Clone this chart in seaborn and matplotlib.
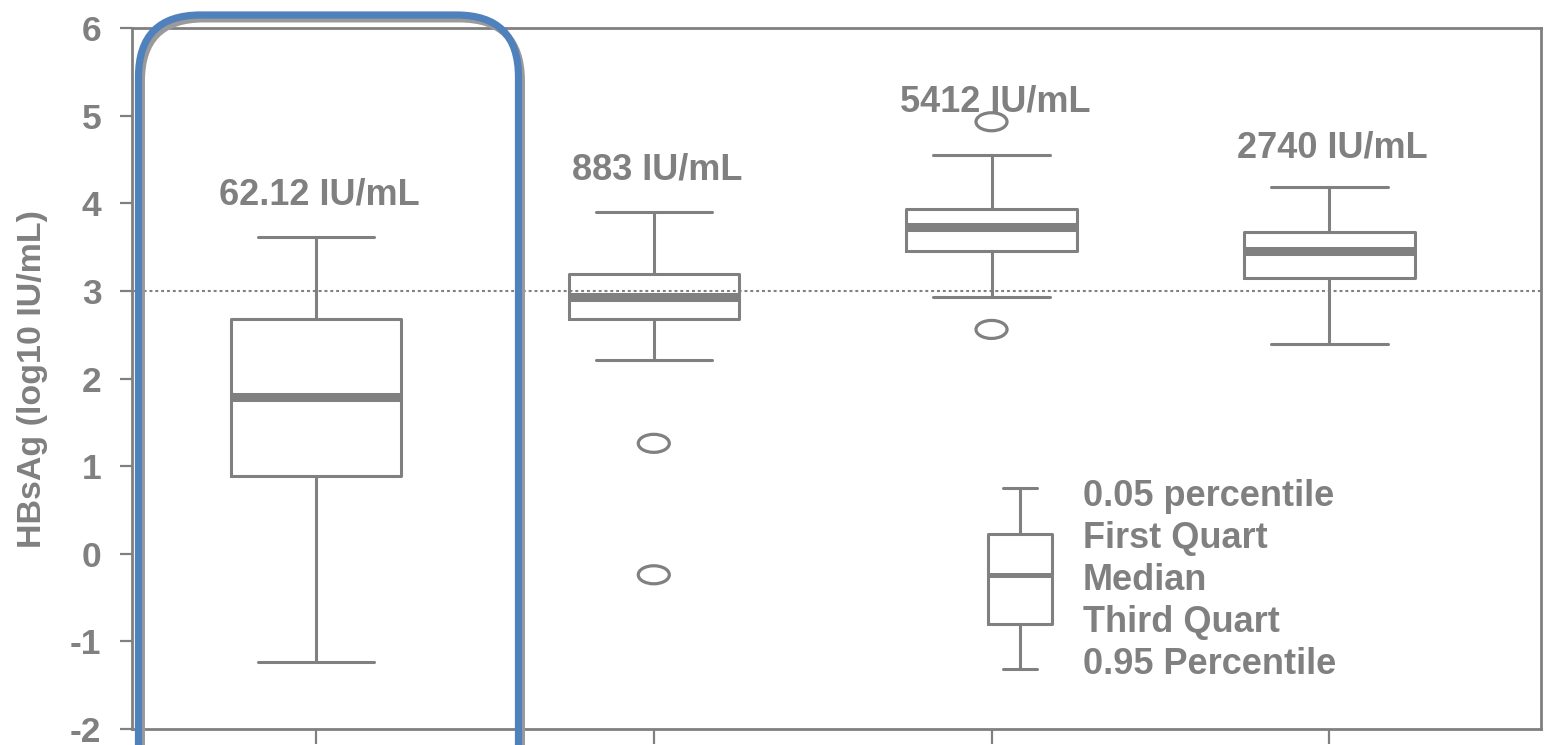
import numpy as np
import pandas as pd
import matplotlib
matplotlib.use("Agg")
import matplotlib.pyplot as plt
from matplotlib.patches import FancyBboxPatch
from matplotlib.path import Path
from matplotlib.transforms import IdentityTransform, Affine2D
import seaborn as sns

# ---------------- data ----------------
groups = ["G1", "G2", "G3", "G4"]
p05 = [-1.24, 2.21, 2.93, 2.39]       # lower whisker (0.05 percentile)
q1 = [0.89, 2.68, 3.45, 3.15]
median = [1.79, 2.93, 3.73, 3.45]
q3 = [2.68, 3.19, 3.93, 3.67]
p95 = [3.61, 3.90, 4.55, 4.19]        # upper whisker (0.95 percentile)

outlier_groups = ["G2", "G2", "G3", "G3"]
outlier_values = [1.26, -0.24, 4.93, 2.56]

value_labels = ["62.12 IU/mL", "883 IU/mL", "5412 IU/mL", "2740 IU/mL"]
label_y = [4.09, 4.38, 5.16, 4.63]

threshold = 3.0

legend_texts = ["0.05 percentile", "First Quart", "Median", "Third Quart", "0.95 Percentile"]
legend_key = [-1.317, -0.804, -0.244, 0.224, 0.749]  # whislo, q1, med, q3, whishi of key glyph

yticks = [-2, -1, 0, 1, 2, 3, 4, 5, 6]
ylabel = "HBsAg (log10 IU/mL)"

# ---------------- style ----------------
gray = "#808080"
blue = "#4F81BD"
sns.set_theme(style="white")
plt.rcParams["font.family"] = ["Liberation Sans", "DejaVu Sans"]
plt.rcParams["font.weight"] = "bold"

fig = plt.figure(figsize=(15.46, 7.45), dpi=100)
ax = fig.add_axes([132 / 1546, 16 / 745, (1541 - 132) / 1546, (717 - 16) / 745])

# Long-form frame of the five summary values per group
rows = []
for g, a, b, c, d, e in zip(groups, p05, q1, median, q3, p95):
    for v in (a, b, c, d, e):
        rows.append({"group": g, "value": v})
df = pd.DataFrame(rows)

sns.boxplot(
    data=df, x="group", y="value", order=groups, ax=ax,
    whis=(0, 100), width=0.505, fill=False, color=gray, linewidth=2.2,
    showfliers=False,
    medianprops=dict(linewidth=6.5, color=gray),
    capwidths=0.345,
)

# Outliers as open ellipses
ell = Path.unit_circle().transformed(Affine2D().scale(1.0, 0.58))
ox = pd.Categorical(outlier_groups, categories=groups).codes
ax.scatter(ox, outlier_values, marker=ell, s=500, facecolors="none",
           edgecolors=gray, linewidths=2.3, zorder=3)

# Threshold dotted line
ax.axhline(threshold, color=gray, linewidth=1.5, linestyle=(0, (1.4, 1.4)), zorder=1)

# Value labels
for i, (t, y) in enumerate(zip(value_labels, label_y)):
    ax.text(i + 0.01, y, t, ha="center", va="center", fontsize=26,
            fontweight="bold", color=gray, zorder=4)

# Legend key glyph
key_stats = [{"whislo": legend_key[0], "q1": legend_key[1], "med": legend_key[2],
              "q3": legend_key[3], "whishi": legend_key[4], "fliers": []}]
ax.bxp(key_stats, positions=[2.085], widths=0.19, capwidths=0.1,
       showfliers=False, manage_ticks=False,
       boxprops=dict(color=gray, linewidth=2.2),
       whiskerprops=dict(color=gray, linewidth=2.2),
       capprops=dict(color=gray, linewidth=2.2),
       medianprops=dict(color=gray, linewidth=3.6))
text_y = np.linspace(legend_key[4] - 0.09, legend_key[0] + 0.05, len(legend_texts))
for t, y in zip(legend_texts, text_y):
    ax.text(2.271, y, t, ha="left", va="center", fontsize=26,
            fontweight="bold", color=gray)

# Axes
ax.set_xlim(-0.545, 3.627)
ax.set_ylim(-2, 6)
ax.set_yticks(yticks)
ax.set_yticklabels([str(v) for v in yticks])
ax.set_xticks(range(len(groups)))
ax.set_xticklabels([])
ax.set_xlabel("")
ax.set_ylabel(ylabel, fontsize=24.5, fontweight="bold", color=gray, labelpad=16)
ax.tick_params(axis="y", direction="out", length=9, width=1.6, color=gray,
               labelsize=25.5, labelcolor=gray, pad=13, left=True)
ax.tick_params(axis="x", direction="out", length=11, width=1.6, color=gray, bottom=True)
for lab in ax.get_yticklabels():
    lab.set_fontweight("bold")
for s in ax.spines.values():
    s.set_visible(True)
    s.set_color(gray)
    s.set_linewidth(2.0)
ax.grid(False)

# Highlight rounded rectangle (figure pixel coordinates)
x0, x1 = 138.5, 518.5
ytop = 745 - 15
shadow = FancyBboxPatch((x0 + 3, -60 - 4), x1 - x0, ytop + 60,
                        boxstyle="round,pad=0,rounding_size=62",
                        transform=IdentityTransform(), fill=False,
                        edgecolor="#9a9a9a", linewidth=5, zorder=5)
rect = FancyBboxPatch((x0, -60), x1 - x0, ytop + 60,
                      boxstyle="round,pad=0,rounding_size=62",
                      transform=IdentityTransform(), fill=False,
                      edgecolor=blue, linewidth=5.2, zorder=6)
fig.patches.extend([shadow, rect])

fig.savefig("out.png", dpi=100)
